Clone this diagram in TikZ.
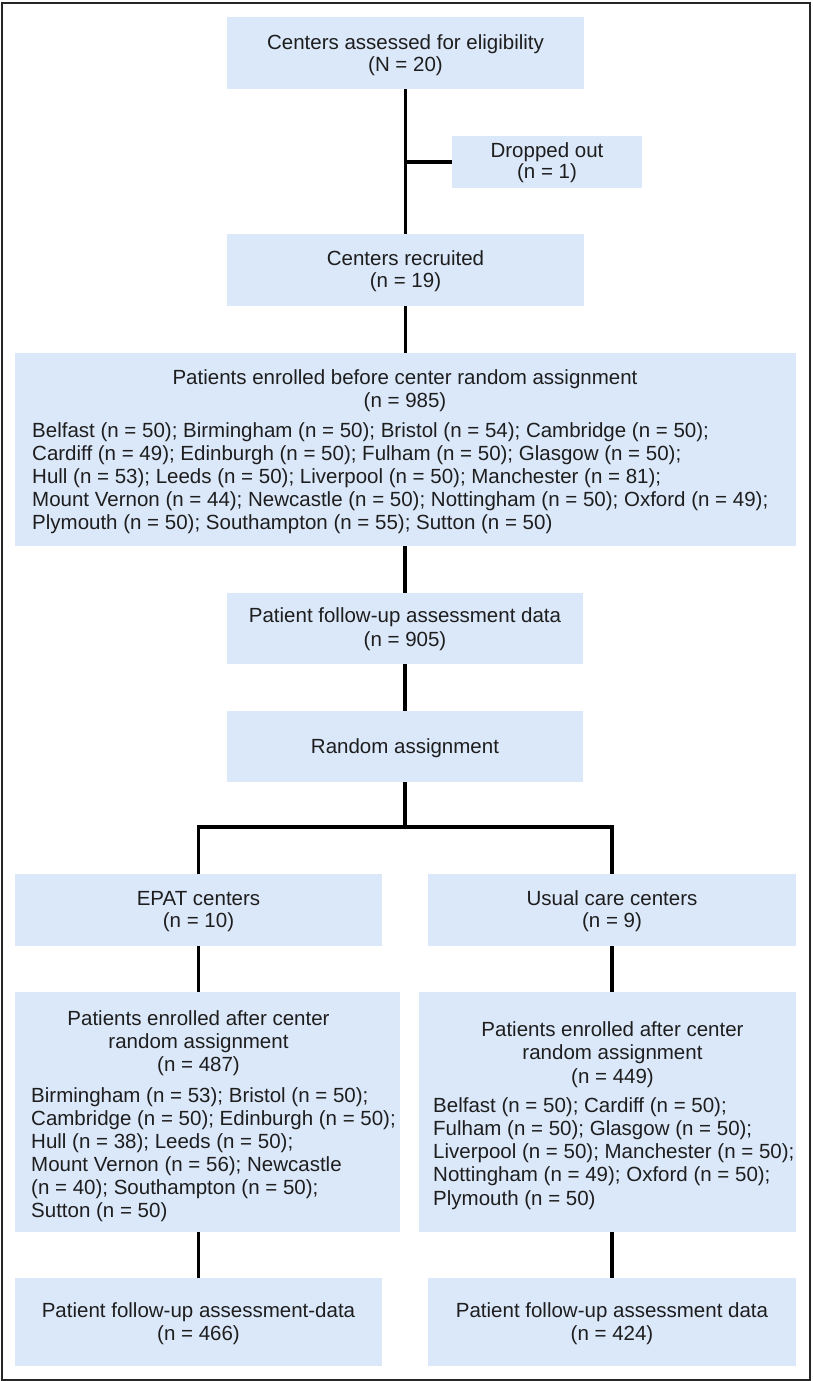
\documentclass[tikz,border=0pt]{standalone}
\usepackage{fontspec}
\setmainfont{Liberation Sans}
\definecolor{boxfill}{RGB}{219,232,250}
\definecolor{ink}{RGB}{30,30,30}
\newcommand\ctab[2]{{\fontsize{20.5}{#1}\selectfont\begin{tabular}[t]{@{}c@{}}#2\end{tabular}}}
\newcommand\ltab[2]{{\fontsize{20.5}{#1}\selectfont\begin{tabular}[t]{@{}l@{}}#2\end{tabular}}}
\begin{document}
\begin{tikzpicture}[x=1pt,y=-1pt,
  box/.style={fill=boxfill, draw=none, inner sep=0pt, outer sep=0pt},
  txt/.style={inner sep=0pt, text=ink, anchor=base},
  ltxt/.style={inner sep=0pt, text=ink, anchor=base west},
  conn/.style={line width=3.5pt, draw=black}]
\useasboundingbox (0,0) rectangle (812,1381);
\draw[line width=2pt, draw=black!85] (1.5,3) rectangle (810,1379.5);

% boxes
\node[box, minimum width=357, minimum height=72] (A) at (405.5,53) {};
\node[box, minimum width=190, minimum height=52] (B) at (547,162) {};
\node[box, minimum width=357, minimum height=72] (C) at (405.5,270) {};
\node[box, minimum width=781.5, minimum height=193] (D) at (405.25,449.5) {};
\node[box, minimum width=356, minimum height=71] (E) at (405,628.5) {};
\node[box, minimum width=356, minimum height=71] (F) at (405,746.5) {};
\node[box, minimum width=367, minimum height=72] (G) at (198.5,910) {};
\node[box, minimum width=368, minimum height=72] (H) at (612,910) {};
\node[box, minimum width=385, minimum height=240] (I) at (207.5,1112) {};
\node[box, minimum width=377, minimum height=240] (J) at (607.5,1112) {};
\node[box, minimum width=367, minimum height=88] (K) at (198.5,1322) {};
\node[box, minimum width=368, minimum height=88] (L) at (612,1322) {};

% texts
\node[txt] (tA) at (405.5,50) {\ctab{21}{Centers assessed for eligibility\\(N = 20)}};
\node[txt] (tB) at (547,157) {\ctab{21}{Dropped out\\(n = 1)}};
\node[txt] (tC) at (405.5,265) {\ctab{22}{Centers recruited\\(n = 19)}};
\node[txt] (tD) at (405,384) {\ctab{23}{Patients enrolled before center random assignment\\(n = 985)}};
\node[ltxt] (lD) at (32,437) {\ltab{23}{%
Belfast (n = 50); Birmingham (n = 50); Bristol (n = 54); Cambridge (n = 50);\\
Cardiff (n = 49); Edinburgh (n = 50); Fulham (n = 50); Glasgow (n = 50);\\
Hull (n = 53); Leeds (n = 50); Liverpool (n = 50); Manchester (n = 81);\\
Mount Vernon (n = 44); Newcastle (n = 50); Nottingham (n = 50); Oxford (n = 49);\\
Plymouth (n = 50); Southampton (n = 55); Sutton (n = 50)}};
\node[txt] (tE) at (405,622) {\ctab{24}{Patient follow-up assessment data\\(n = 905)}};
\node[txt] (tF) at (405,753) {\ctab{23}{Random assignment}};
\node[txt] (tG) at (198.5,905) {\ctab{22}{EPAT centers\\(n = 10)}};
\node[txt] (tH) at (612,905) {\ctab{22}{Usual care centers\\(n = 9)}};
\node[txt] (tI) at (198.5,1025) {\ctab{23}{Patients enrolled after center\\random assignment\\(n = 487)}};
\node[ltxt] (lI) at (31,1102) {\ltab{23}{%
Birmingham (n = 53); Bristol (n = 50);\\
Cambridge (n = 50); Edinburgh (n = 50);\\
Hull (n = 38); Leeds (n = 50);\\
Mount Vernon (n = 56); Newcastle\\
(n = 40); Southampton (n = 50);\\
Sutton (n = 50)}};
\node[txt] (tJ) at (612.5,1036) {\ctab{23.5}{Patients enrolled after center\\random assignment\\(n = 449)}};
\node[ltxt] (lJ) at (433,1112) {\ltab{23.3}{%
Belfast (n = 50); Cardiff (n = 50);\\
Fulham (n = 50); Glasgow (n = 50);\\
Liverpool (n = 50); Manchester (n = 50);\\
Nottingham (n = 49); Oxford (n = 50);\\
Plymouth (n = 50)}};
\node[txt] (tK) at (198.5,1317) {\ctab{23}{Patient follow-up assessment-data\\(n = 466)}};
\node[txt] (tL) at (612,1317) {\ctab{23}{Patient follow-up assessment data\\(n = 424)}};

% connectors
\coordinate (split) at (405,827);
\draw[conn] (A.south) -- (C.north);
\draw[conn] (A.south |- B.west) -- (B.west);
\draw[conn] (C.south) -- (C.south |- D.north);
\draw[conn] (E.north |- D.south) -- (E.north);
\draw[conn] (E.south) -- (F.north);
\draw[conn] (F.south) -- (split);
\draw[conn] (G.north) -- (G.north |- split) -- (H.north |- split) -- (H.north);
\draw[conn] (G.south) -- (G.south |- I.north);
\draw[conn] (H.south) -- (H.south |- J.north);
\draw[conn] (K.north |- I.south) -- (K.north);
\draw[conn] (L.north |- J.south) -- (L.north);
\end{tikzpicture}
\end{document}
